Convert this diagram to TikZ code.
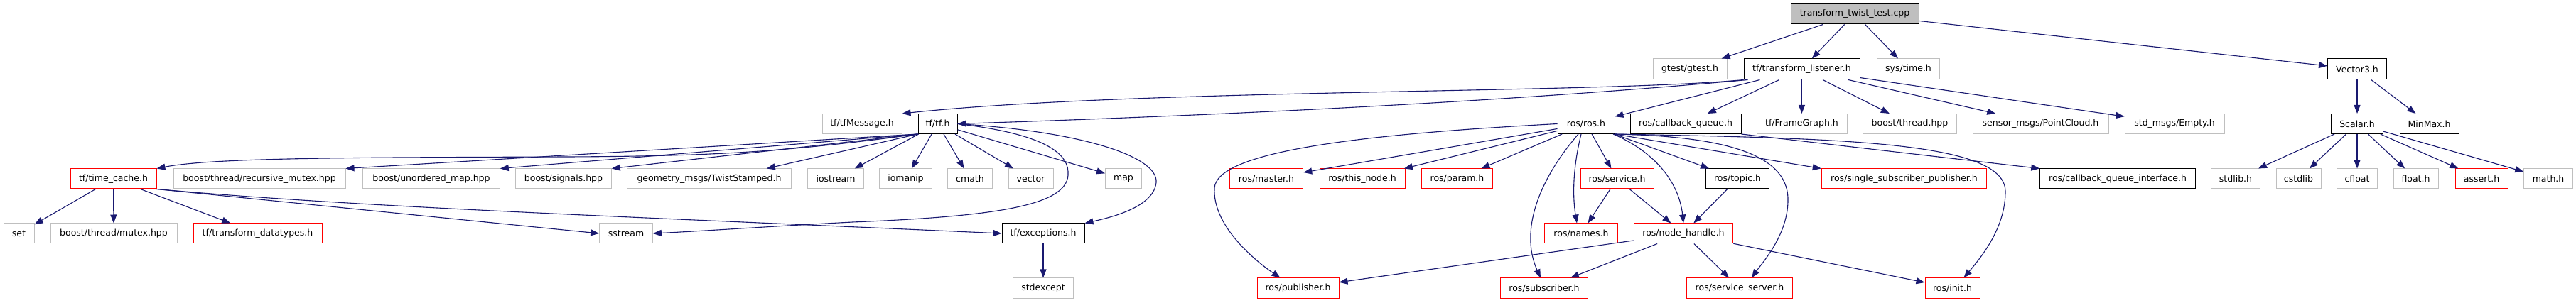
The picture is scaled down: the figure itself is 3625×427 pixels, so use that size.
\documentclass[tikz,border=0pt]{standalone}
\usepackage{fontspec}
\setmainfont{DejaVu Sans}
\usetikzlibrary{arrows.meta}
\definecolor{edgecol}{RGB}{25,25,112}
\definecolor{grayb}{RGB}{191,191,191}
\definecolor{redb}{RGB}{255,0,0}
\tikzset{
  nbox/.style={rectangle, inner sep=0pt, minimum height=28pt, line width=1pt,
    font=\fontsize{12.5}{14}\selectfont},
  gbox/.style={nbox, draw=grayb},
  bbox/.style={nbox, draw=black},
  rbox/.style={nbox, draw=redb},
  rootbox/.style={nbox, draw=black, fill=grayb, minimum height=29pt},
  edge/.style={draw=edgecol, line width=1.1pt, -{Triangle[length=12pt,width=9pt]}}
}
\begin{document}
\begin{tikzpicture}[x=1pt,y=-1pt]
\useasboundingbox (0,0) rectangle (3625,427);
\fill[white] (0,0) rectangle (3625,427);
% row 0
\node[rootbox, minimum width=180pt] (root) at (2610,19.5) {transform\_twist\_test.cpp};
% row 1
\node[gbox, minimum width=104pt, minimum height=29pt] (gtest) at (2378,97.5) {gtest/gtest.h};
\node[bbox, minimum width=163pt, minimum height=29pt] (listener) at (2535.5,97.5) {tf/transform\_listener.h};
\node[gbox, minimum width=88pt, minimum height=29pt] (systime) at (2685.5,97.5) {sys/time.h};
\node[bbox, minimum width=83pt, minimum height=29pt] (vector3) at (3317,97.5) {Vector3.h};
% row 2
\node[gbox, minimum width=112pt] (tfmsg) at (1213,174.5) {tf/tfMessage.h};
\node[bbox, minimum width=55pt] (tf) at (1319.5,174.5) {tf/tf.h};
\node[bbox, minimum width=80pt] (ros) at (2232,174.5) {ros/ros.h};
\node[bbox, minimum width=156pt] (cbq) at (2372,174.5) {ros/callback\_queue.h};
\node[gbox, minimum width=127pt] (framegraph) at (2535.5,174.5) {tf/FrameGraph.h};
\node[gbox, minimum width=132pt] (bthread) at (2687.5,174.5) {boost/thread.hpp};
\node[gbox, minimum width=191pt] (pointcloud) at (2871.5,174.5) {sensor\_msgs/PointCloud.h};
\node[gbox, minimum width=140pt] (empty) at (3060,174.5) {std\_msgs/Empty.h};
\node[bbox, minimum width=73pt] (scalar) at (3317,174.5) {Scalar.h};
\node[bbox, minimum width=83pt] (minmax) at (3418.5,174.5) {MinMax.h};
% row 3
\node[rbox, minimum width=121pt] (tcache) at (159.5,252) {tf/time\_cache.h};
\node[gbox, minimum width=242pt] (rmutex) at (365,252) {boost/thread/recursive\_mutex.hpp};
\node[gbox, minimum width=192.5pt] (umap) at (607,252) {boost/unordered\_map.hpp};
\node[gbox, minimum width=134.6pt] (signals) at (793,252) {boost/signals.hpp};
\node[gbox, minimum width=230.6pt] (twist) at (998,252) {geometry\_msgs/TwistStamped.h};
\node[gbox, minimum width=78.5pt] (iostream) at (1176,252) {iostream};
\node[gbox, minimum width=73.5pt] (iomanip) at (1274.5,252) {iomanip};
\node[gbox, minimum width=63pt] (cmath) at (1365,252) {cmath};
\node[gbox, minimum width=63pt] (vector) at (1450.5,252) {vector};
\node[gbox, minimum width=51pt] (map) at (1581,252) {map};
\node[rbox, minimum width=103.5pt] (master) at (1782,252) {ros/master.h};
\node[rbox, minimum width=120pt] (thisnode) at (1917,252) {ros/this\_node.h};
\node[rbox, minimum width=100pt] (param) at (2050.5,252) {ros/param.h};
\node[rbox, minimum width=103pt] (service) at (2275.5,252) {ros/service.h};
\node[bbox, minimum width=89pt] (topic) at (2445,252) {ros/topic.h};
\node[rbox, minimum width=232.5pt] (ssp) at (2679.5,252) {ros/single\_subscriber\_publisher.h};
\node[bbox, minimum width=218.5pt] (cbqi) at (2980,252) {ros/callback\_queue\_interface.h};
\node[gbox, minimum width=68.5pt] (stdlib) at (3146,252) {stdlib.h};
\node[gbox, minimum width=63pt] (cstdlib) at (3234.5,252) {cstdlib};
\node[gbox, minimum width=57.5pt] (cfloat) at (3317,252) {cfloat};
\node[gbox, minimum width=63pt] (floath) at (3399.5,252) {float.h};
\node[rbox, minimum width=74pt] (asserth) at (3492,252) {assert.h};
\node[gbox, minimum width=68.5pt] (mathh) at (3586,252) {math.h};
% row 4
\node[gbox, minimum width=43pt] (set) at (26.5,329) {set};
\node[gbox, minimum width=178pt] (mutex) at (160,329) {boost/thread/mutex.hpp};
\node[rbox, minimum width=181pt] (tdt) at (362.5,329) {tf/transform\_datatypes.h};
\node[gbox, minimum width=74.7pt] (sstream) at (881,329) {sstream};
\node[bbox, minimum width=116pt] (exceptions) at (1468,329) {tf/exceptions.h};
\node[rbox, minimum width=103pt] (names) at (2225,329) {ros/names.h};
\node[rbox, minimum width=139.6pt] (nodehandle) at (2369,329) {ros/node\_handle.h};
% row 5
\node[gbox, minimum width=85.4pt] (stdexcept) at (1468,406) {stdexcept};
\node[rbox, minimum width=115pt] (publisher) at (1826.5,406) {ros/publisher.h};
\node[rbox, minimum width=122.6pt] (subscriber) at (2173,406) {ros/subscriber.h};
\node[rbox, minimum width=149.6pt] (sserver) at (2448,406) {ros/service\_server.h};
\node[rbox, minimum width=77pt] (init) at (2747.5,406) {ros/init.h};

% ---- edges ----
\draw[edge] (root) -- (gtest);
\draw[edge] (root) -- (listener);
\draw[edge] (root) -- (systime);
\draw[edge] (root) -- (vector3);

\draw[edge] (listener.south west) .. controls (2250,132) and (1600,125) .. (tfmsg.north east);
\draw[edge] ([xshift=6pt]listener.south west) .. controls (2100,145) and (1700,163) .. (tf.east);
\draw[edge] (listener) -- (ros);
\draw[edge] (listener) -- (cbq);
\draw[edge] (listener) -- (framegraph);
\draw[edge] (listener) -- (bthread);
\draw[edge] (listener) -- (pointcloud);
\draw[edge] (listener) -- (empty);

\draw[edge] (tf.south west) .. controls (1100,215) and (1000,220) .. (800,221) .. controls (500,222) and (300,222) .. (tcache.north east);
\draw[edge] (tf.south west) -- (rmutex.north east);
\draw[edge] (tf.south west) -- (umap.north east);
\draw[edge] (tf.south west) -- (signals.north east);
\draw[edge] (tf.south west) -- ([xshift=-35pt]twist.north east);
\draw[edge] (tf) -- (iostream);
\draw[edge] (tf) -- (iomanip);
\draw[edge] (tf) -- (cmath);
\draw[edge] (tf) -- (vector);
\draw[edge] (tf) -- (map);
\draw[edge] (tf.east) .. controls (1480,190) and (1505,220) .. (1503,247) .. controls (1500,290) and (1400,305) .. (1200,313) .. controls (1100,318) and (1000,325) .. (sstream.east);
\draw[edge] (tf.east) .. controls (1520,185) and (1630,220) .. (1627,257) .. controls (1624,290) and (1570,305) .. (exceptions.north east);

\draw[edge] (tcache) -- (set);
\draw[edge] (tcache) -- (mutex);
\draw[edge] (tcache) -- (tdt);
\draw[edge] (tcache.south east) -- (sstream.west);
\draw[edge] (tcache.south east) .. controls (500,292) and (900,306) .. (exceptions.west);

\draw[edge] (exceptions) -- (stdexcept);

\draw[edge] (ros.west) .. controls (1900,190) and (1712,215) .. (1709,265) .. controls (1706,320) and (1770,370) .. ([xshift=-25pt]publisher.north);
\draw[edge] (ros) -- (master);
\draw[edge] (ros) -- (thisnode);
\draw[edge] (ros) -- (param);
\draw[edge] ([xshift=-11pt]ros.south) .. controls (2160,260) and (2140,330) .. ([xshift=-5pt]subscriber.north);
\draw[edge] ([xshift=-7pt]ros.south) .. controls (2210,250) and (2215,290) .. ([xshift=-6pt]names.north);
\draw[edge] (ros) -- (service);
\draw[edge] ([xshift=38pt]ros.south) .. controls (2320,210) and (2362,250) .. (nodehandle.north);
\draw[edge] (ros) -- (topic);
\draw[edge] (ros.south east) -- (ssp.north west);
\draw[edge] (ros.south east) .. controls (2420,192) and (2515,215) .. (2516,280) .. controls (2517,330) and (2480,370) .. ([xshift=17pt]sserver.north);
\draw[edge] (ros.south east) .. controls (2600,195) and (2822,200) .. (2822,270) .. controls (2822,320) and (2790,360) .. ([xshift=16pt]init.north);

\draw[edge] (cbq.south east) -- (cbqi.north west);

\draw[edge] (service) -- (names);
\draw[edge] (service) -- (nodehandle);
\draw[edge] (topic) -- (nodehandle);

\draw[edge] (nodehandle) -- (publisher);
\draw[edge] (nodehandle) -- (subscriber);
\draw[edge] (nodehandle) -- (sserver);
\draw[edge] (nodehandle) -- (init);

\draw[edge] (vector3) -- (scalar);
\draw[edge] (vector3) -- (minmax);

\draw[edge] (scalar) -- (stdlib);
\draw[edge] (scalar) -- (cstdlib);
\draw[edge] (scalar) -- (cfloat);
\draw[edge] (scalar) -- (floath);
\draw[edge] (scalar) -- (asserth);
\draw[edge] (scalar) -- (mathh);
\end{tikzpicture}
\end{document}
